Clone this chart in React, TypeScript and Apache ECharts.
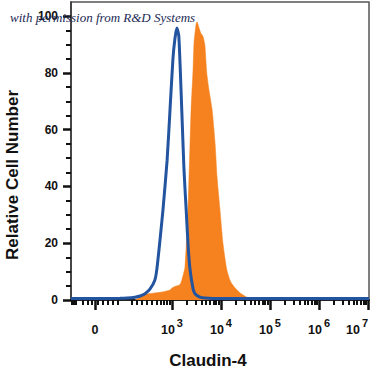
import React, { useEffect, useRef } from "react";
import * as echarts from "echarts";

// Display units on the x axis: u = log10 of intensity (biexponential region near 0)
const blueU = [0.94, 1.5, 1.94, 2.08, 2.245, 2.35, 2.45, 2.55, 2.65, 2.69, 2.755, 2.816, 2.9, 2.96, 3.02, 3.06, 3.1, 3.14, 3.2, 3.245, 3.29, 3.33, 3.37, 3.43, 3.47, 3.57, 3.67, 3.98, 5.0, 6.0, 7.02];
const blueV = [0.5, 0.5, 0.6, 0.7, 1.0, 1.4, 2.2, 3.8, 7, 10.6, 21, 31.7, 49, 67, 85, 92, 95.8, 93, 67, 46, 31.7, 19, 10.6, 4, 2.2, 1.0, 0.7, 0.5, 0.5, 0.5, 0.5];

const orangeU = [2.245, 2.35, 2.49, 2.65, 2.8, 2.96, 3.0, 3.08, 3.16, 3.2, 3.245, 3.265, 3.31, 3.327, 3.37, 3.39, 3.43, 3.45, 3.49, 3.51, 3.55, 3.59, 3.63, 3.67, 3.71, 3.755, 3.82, 3.88, 3.92, 3.98, 4.04, 4.12, 4.2, 4.29, 4.39, 4.53, 4.69];
const orangeV = [0, 1.0, 2.1, 2.5, 2.8, 3.5, 4.2, 4.9, 5.4, 7, 9.9, 11.5, 24.7, 31.7, 56, 67, 81, 90.5, 97, 98, 96, 94, 93, 90, 80, 74, 67, 55, 43.3, 31.7, 20, 10.6, 6.3, 4.2, 2.5, 1.0, 0];

const xLabelValues = [1.43, 3, 4, 5, 6, 7];
const xLabelExponents = ["", "3", "4", "5", "6", "7"];
const xMajorTicks = [1.43, 3, 4, 5, 6, 7];
const xMinorTicksLinear = [0.96, 1.0, 1.04, 1.18, 1.28, 1.37, 1.49, 1.59, 1.69, 1.8, 1.9, 2.18, 2.29, 2.39, 2.49, 2.59, 2.69, 2.78, 2.84, 2.9, 2.96];
const logMultipliers = [2, 3, 4, 5, 6, 7, 8, 9];
const decades = [3, 4, 5, 6];

const yMajorTicks = [0, 20, 40, 60, 80, 100];
const yMinorTicks = [5, 10, 15, 25, 30, 35, 45, 50, 55, 65, 70, 75, 85, 90, 95];

export default function App() {
  const ref = useRef<HTMLDivElement>(null);
  useEffect(() => {
    if (!ref.current) return;
    const chart = echarts.init(ref.current, undefined, { renderer: "svg" });
    const xMinorTicks = [
      ...xMinorTicksLinear,
      ...decades.flatMap((d) => logMultipliers.map((k) => d + Math.log10(k))),
    ];
    const blueData = blueU.map((u, i) => [u, blueV[i]]);
    const orangeData = orangeU.map((u, i) => [u, orangeV[i]]);
    const font = "'Liberation Sans', Arial, sans-serif";
    const richBase = { fontFamily: font, fontWeight: "bold", color: "#111", verticalAlign: "bottom" };
    chart.setOption({
      animation: false,
      title: {
        text: "with permission from R&D Systems",
        left: 5,
        top: 6,
        textStyle: {
          fontFamily: "'Liberation Serif', serif",
          fontStyle: "italic",
          fontWeight: "normal",
          fontSize: 13,
          color: "#1b2a55",
        },
      },
      grid: {
        left: 71,
        right: 3,
        top: 2,
        bottom: 72,
        containLabel: false,
        outerBoundsMode: "none",
        show: true,
        borderColor: "#555",
        borderWidth: 1.5,
        backgroundColor: "transparent",
      },
      xAxis: [
        {
          type: "value",
          min: 0.94,
          max: 7.02,
          splitLine: { show: false },
          axisLine: { show: true, lineStyle: { color: "#222", width: 2 } },
          axisTick: {
            show: true,
            customValues: xMajorTicks,
            length: 10,
            lineStyle: { color: "#111", width: 2.5 },
          },
          axisLabel: {
            customValues: xLabelValues,
            margin: 24,
            formatter: (val: number) => {
              const idx = xLabelValues.findIndex((v) => Math.abs(v - val) < 0.001);
              const e = idx >= 0 ? xLabelExponents[idx] : "";
              if (e === "") return "{b|0}";
              if (e === "7") return `{b|10}{s7|${e}}`;
              return `{b|10}{s|${e}}`;
            },
            rich: {
              b: { ...richBase, fontSize: 12.5, lineHeight: 12, padding: [8, 0, 0, 0] },
              s: { ...richBase, fontSize: 11, lineHeight: 11, padding: [0, 0, 8, 2] },
              s7: { ...richBase, fontSize: 11, lineHeight: 11, padding: [0, 22, 8, 2] },
            },
          },
        },
        {
          type: "value",
          min: 0.94,
          max: 7.02,
          position: "bottom",
          splitLine: { show: false },
          axisLine: { show: false },
          axisLabel: { show: false },
          axisTick: {
            show: true,
            customValues: xMinorTicks,
            length: 5,
            lineStyle: { color: "#111", width: 2 },
          },
        },
      ],
      yAxis: [
        {
          type: "value",
          min: 0,
          max: 105,
          splitLine: { show: false },
          axisLine: { show: true, lineStyle: { color: "#333", width: 1.5 } },
          axisTick: {
            show: true,
            customValues: yMajorTicks,
            length: 8,
            lineStyle: { color: "#111", width: 2.5 },
          },
          axisLabel: {
            customValues: yMajorTicks,
            margin: 13,
            fontFamily: font,
            fontWeight: "bold",
            fontSize: 12,
            color: "#111",
          },
        },
        {
          type: "value",
          min: 0,
          max: 105,
          position: "left",
          splitLine: { show: false },
          axisLine: { show: false },
          axisLabel: { show: false },
          axisTick: {
            show: true,
            customValues: yMinorTicks,
            length: 5,
            lineStyle: { color: "#111", width: 2 },
          },
        },
      ],
      graphic: [
        {
          type: "text",
          x: 12,
          y: 175,
          rotation: Math.PI / 2,
          style: {
            text: "Relative Cell Number",
            fontFamily: font,
            fontWeight: "bold",
            fontSize: 17,
            fill: "#111",
            textAlign: "center",
            textVerticalAlign: "middle",
          },
        },
        {
          type: "text",
          x: 208,
          y: 360,
          style: {
            text: "Claudin-4",
            fontFamily: font,
            fontWeight: "bold",
            fontSize: 17,
            fill: "#111",
            textAlign: "center",
            textVerticalAlign: "middle",
          },
        },
      ],
      series: [
        {
          type: "line",
          data: orangeData,
          xAxisIndex: 0,
          yAxisIndex: 0,
          showSymbol: false,
          smooth: 0.2,
          lineStyle: { width: 0.5, color: "#f5821f" },
          areaStyle: { color: "#f5821f", opacity: 1 },
          z: 2,
        },
        {
          type: "line",
          data: blueData,
          xAxisIndex: 0,
          yAxisIndex: 0,
          showSymbol: false,
          smooth: 0.2,
          lineStyle: { width: 3, color: "#2354a0" },
          z: 3,
        },
      ],
    });
    return () => chart.dispose();
  }, []);
  return (
    <div
      ref={ref}
      style={{ position: "fixed", left: 0, top: 0, width: 372, height: 372, background: "#fff" }}
    />
  );
}
